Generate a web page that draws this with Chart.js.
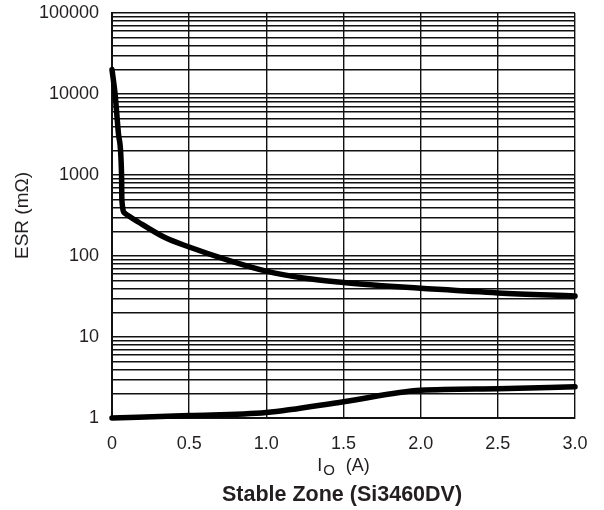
<!DOCTYPE html>
<html>
<head>
<meta charset="utf-8">
<script src="https://cdn.jsdelivr.net/npm/chart.js@4.4.1/dist/chart.umd.min.js"></script>
<style>
  * { margin: 0; padding: 0; box-sizing: border-box; }
  body { background: #fff; width: 604px; height: 510px; overflow: hidden; }
  #wrap { position: relative; width: 604px; height: 510px; }
</style>
</head>
<body>
<div id="wrap"><canvas id="chart" width="604" height="510"></canvas></div>
<script>
// upper boundary of the stable zone (I_O in A, ESR in mOhm)
const upperX = [0, 0.02, 0.042, 0.062, 0.064, 0.084, 0.17, 0.34, 0.5, 0.75, 1.0, 1.25, 1.5, 1.75, 2.0, 2.5, 3.0];
const upperY = [20000, 10000, 3200, 1000, 490, 336, 263, 170, 129, 89, 65, 53, 47, 43, 40, 35, 32];

// lower boundary
const lowerX = [0, 0.5, 1.0, 1.5, 2.0, 2.5, 3.0];
const lowerY = [1, 1.07, 1.17, 1.59, 2.2, 2.3, 2.43];

const xTicks = [0, 0.5, 1.0, 1.5, 2.0, 2.5, 3.0];
const yDecades = [1, 10, 100, 1000, 10000, 100000];

const FONT = '"Liberation Sans", Arial, Helvetica, sans-serif';
const TEXT = '#231f20';

const toPoints = (xs, ys) => xs.map((x, i) => ({x: x, y: ys[i]}));

// every 1..9 step inside each decade, used as horizontal grid
const yGrid = [];
yDecades.forEach((d, i) => {
  if (i === yDecades.length - 1) { yGrid.push(d); return; }
  for (let k = 1; k <= 9; k++) yGrid.push(d * k);
});

// x title with a subscript and the caption under the chart
const textPlugin = {
  id: 'extraText',
  afterDraw(chart) {
    const ctx = chart.ctx;
    const area = chart.chartArea;
    const cx = (area.left + area.right) / 2;
    ctx.save();
    ctx.fillStyle = TEXT;
    ctx.textBaseline = 'middle';
    ctx.textAlign = 'left';

    const big = '18px ' + FONT;
    const small = '15px ' + FONT;
    ctx.font = big;
    const wI = ctx.measureText('I').width;
    const wA = ctx.measureText('  (A)').width;
    ctx.font = small;
    const wO = ctx.measureText('O').width;
    let x = cx - (wI + wO + wA + 2) / 2;
    const y = 466;
    ctx.font = big;
    ctx.fillText('I', x, y);
    x += wI + 1;
    ctx.font = small;
    ctx.fillText('O', x, y + 5);
    x += wO + 1;
    ctx.font = big;
    ctx.fillText('  (A)', x, y);

    ctx.font = 'bold 21.5px ' + FONT;
    ctx.textAlign = 'center';
    ctx.fillText('Stable Zone (Si3460DV)', 342, 495);
    ctx.restore();
  }
};

const lineStyle = {
  borderColor: '#000',
  backgroundColor: '#000',
  borderWidth: 5.5,
  pointRadius: 0,
  cubicInterpolationMode: 'monotone',
  clip: false,
  borderCapStyle: 'round',
  borderJoinStyle: 'round',
};

new Chart(document.getElementById('chart'), {
  type: 'scatter',
  data: {
    datasets: [
      Object.assign({label: 'upper', data: toPoints(upperX, upperY), showLine: true}, lineStyle),
      Object.assign({label: 'lower', data: toPoints(lowerX, lowerY), showLine: true}, lineStyle),
    ]
  },
  options: {
    responsive: false,
    animation: false,
    layout: {padding: {top: 13, right: 29, bottom: 0, left: 0}},
    plugins: {
      legend: {display: false},
      tooltip: {enabled: false},
      title: {display: false},
    },
    scales: {
      x: {
        type: 'linear',
        min: 0,
        max: 3,
        afterBuildTicks: scale => { scale.ticks = xTicks.map(v => ({value: v})); },
        afterFit: scale => {
          scale.height = 92;
          scale.paddingLeft = 0;
          scale.paddingRight = 0;
        },
        ticks: {
          autoSkip: false,
          padding: 15,
          color: TEXT,
          font: {family: FONT, size: 18},
          maxRotation: 0,
          callback: v => (v === 0 ? '0' : Number(v).toFixed(1)),
        },
        grid: {color: '#111', lineWidth: 1.4, drawTicks: false},
        border: {color: '#111', width: 2},
        title: {display: false},
      },
      y: {
        type: 'logarithmic',
        min: 1,
        max: 100000,
        afterBuildTicks: scale => { scale.ticks = yGrid.map(v => ({value: v})); },
        afterFit: scale => {
          scale.width = 112;
          scale.paddingTop = 0;
          scale.paddingBottom = 0;
        },
        ticks: {
          autoSkip: false,
          padding: 13,
          color: TEXT,
          font: {family: FONT, size: 18},
          callback: v => (yDecades.includes(v) ? String(v) : ''),
        },
        grid: {color: '#111', lineWidth: 1.4, drawTicks: false},
        border: {color: '#111', width: 2},
        title: {
          display: true,
          text: 'ESR (mΩ)',
          color: TEXT,
          font: {family: FONT, size: 19},
          padding: {top: 11, bottom: 0},
        },
      },
    },
  },
  plugins: [textPlugin],
});
</script>
</body>
</html>
